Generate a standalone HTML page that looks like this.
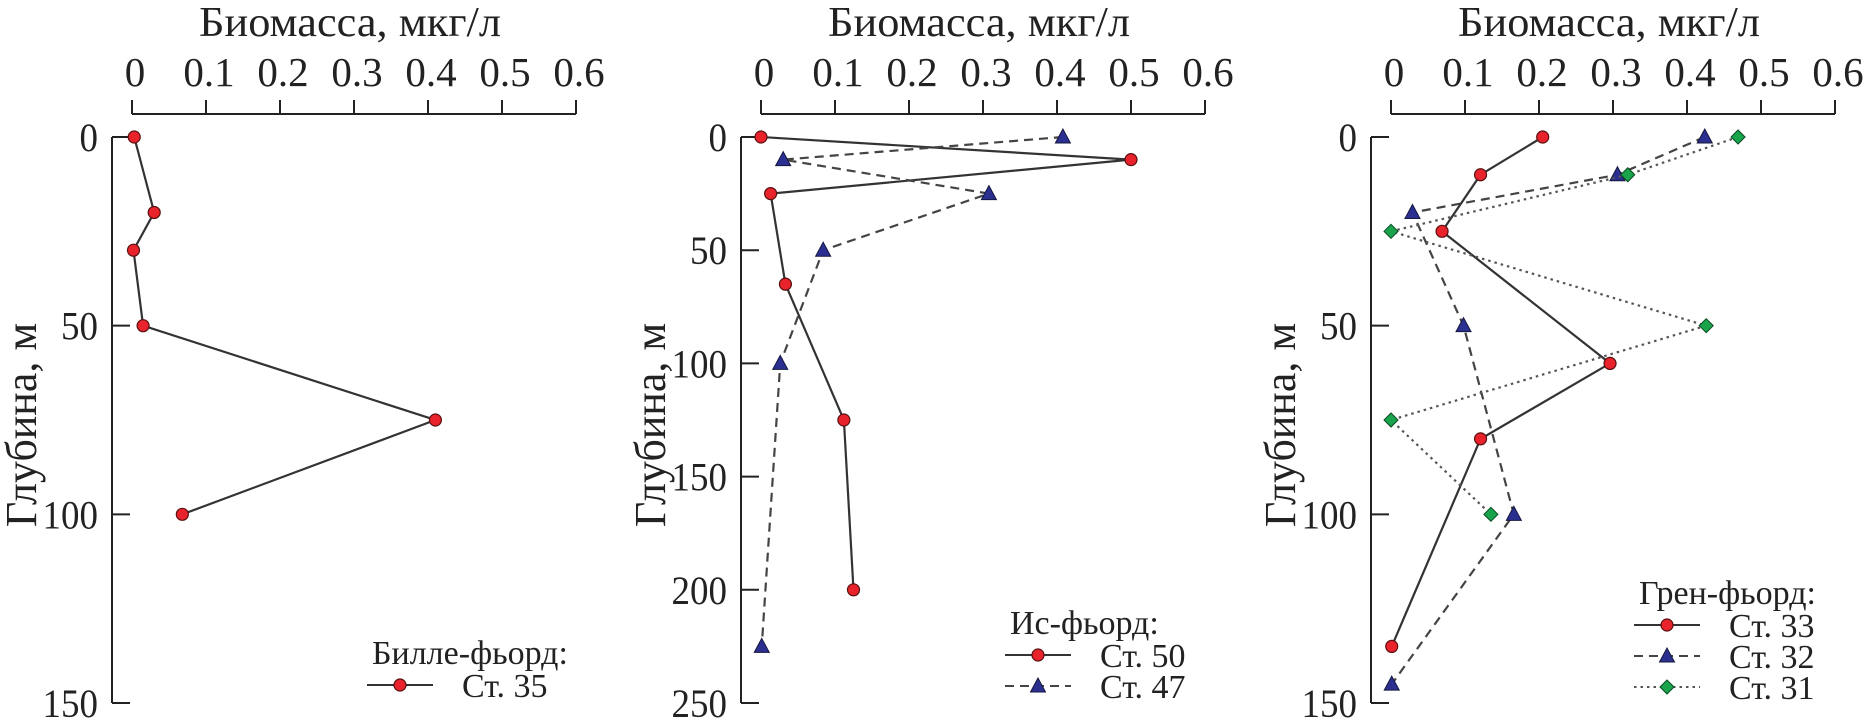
<!DOCTYPE html>
<html><head><meta charset="utf-8">
<style>
html,body{margin:0;padding:0;background:#fff;}
svg{display:block;font-family:"Liberation Serif","DejaVu Serif",serif;}
</style></head>
<body>
<svg id="chart" width="1863" height="728" viewBox="0 0 1863 728"></svg>
<script>
const xTicks = [0, 0.1, 0.2, 0.3, 0.4, 0.5, 0.6];
const xTickLabels = ["0", "0.1", "0.2", "0.3", "0.4", "0.5", "0.6"];
const yTicks1 = [0, 50, 100, 150];
const yTicks2 = [0, 50, 100, 150, 200, 250];
const yTicks3 = [0, 50, 100, 150];

const st35Depth = [0, 20, 30, 50, 75, 100];
const st35Biomass = [0.003, 0.03, 0.002, 0.015, 0.41, 0.068];

const st50Depth = [0, 10, 25, 65, 125, 200];
const st50Biomass = [0, 0.5, 0.013, 0.033, 0.112, 0.125];
const st47Depth = [0, 10, 25, 50, 100, 225];
const st47Biomass = [0.408, 0.03, 0.308, 0.084, 0.026, 0.001];

const st33Depth = [0, 10, 25, 60, 80, 135];
const st33Biomass = [0.205, 0.121, 0.069, 0.296, 0.121, 0.001];
const st32Depth = [0, 10, 20, 50, 100, 145];
const st32Biomass = [0.424, 0.306, 0.029, 0.098, 0.166, 0.001];
const st31Depth = [0, 10, 25, 50, 75, 100];
const st31Biomass = [0.469, 0.32, 0.0, 0.426, 0.0, 0.135];

const NS = "http://www.w3.org/2000/svg";
const svg = document.getElementById("chart");
function mk(tag, attrs, parent) {
  const e = document.createElementNS(NS, tag);
  for (const k in attrs) e.setAttribute(k, attrs[k]);
  (parent || svg).appendChild(e);
  return e;
}
const TOP = 137, BOTTOM = 703, XAXIS_Y = 114;

function panel(name, axisX, yMax, yTicks) {
  const g = mk("g", {});
  
  
  const x0 = axisX + 20, perUnit = 740;
  const xs = v => x0 + v * perUnit;
  const ys = d => TOP + d / yMax * (BOTTOM - TOP);
  const xa = mk("g", {}, g);
  
  
  mk("line", {x1: xs(0), x2: xs(0.6), y1: XAXIS_Y, y2: XAXIS_Y, stroke: "#222", "stroke-width": 2}, xa);
  xTicks.forEach((t, i) => {
    mk("line", {x1: xs(t), x2: xs(t), y1: XAXIS_Y, y2: XAXIS_Y - 14, stroke: "#222", "stroke-width": 2}, xa);
    const tx = mk("text", {x: xs(t) + 3, y: 86, "font-size": 41, "text-anchor": "middle", fill: "#222"}, xa);
    tx.textContent = xTickLabels[i];
    
    
  });
  const tt = mk("text", {x: xs(0.3) - 4, y: 36, "font-size": 42, "text-anchor": "middle", fill: "#222",
    textLength: 302, lengthAdjust: "spacingAndGlyphs"}, g);
  tt.textContent = "Биомасса, мкг/л";
  
  
  const ya = mk("g", {}, g);
  
  
  mk("line", {x1: axisX, x2: axisX, y1: TOP, y2: BOTTOM, stroke: "#222", "stroke-width": 2}, ya);
  yTicks.forEach(t => {
    mk("line", {x1: axisX, x2: axisX + 18, y1: ys(t), y2: ys(t), stroke: "#222", "stroke-width": 2}, ya);
    const tx = mk("text", {x: axisX - 14, y: ys(t) + 14, "font-size": 40, "text-anchor": "end", fill: "#222",
      textLength: String(t).length * 18.5, lengthAdjust: "spacingAndGlyphs"}, ya);
    tx.textContent = String(t);
    
    
  });
  const yl = mk("text", {x: 0, y: 0, "font-size": 44, "text-anchor": "middle", fill: "#222",
    transform: `translate(${axisX - 76},425) rotate(-90)`}, g);
  yl.textContent = "Глубина, м";
  
  
  return {g, xs, ys};
}

const STYLE = {
  solid: {dash: "none", color: "#333"},
  dashed: {dash: "9,6", color: "#444"},
  dotted: {dash: "2.5,4", color: "#555"}
};
function marker(parent, kind, x, y) {
  let m;
  if (kind === "circle") m = mk("circle", {cx: x, cy: y, r: 6, fill: "#e8232b", stroke: "#5a1010", "stroke-width": 1.2}, parent);
  else if (kind === "triangle") m = mk("polygon", {points: `${x},${y - 8} ${x - 7.5},${y + 6} ${x + 7.5},${y + 6}`, fill: "#2b2f8f", stroke: "#15173f", "stroke-width": 1}, parent);
  else m = mk("polygon", {points: `${x},${y - 7} ${x + 7},${y} ${x},${y + 7} ${x - 7},${y}`, fill: "#19a44c", stroke: "#0b4a22", "stroke-width": 1}, parent);
  
  
}
function series(p, name, depths, vals, style, kind) {
  const g = mk("g", {}, p.g);
  
  
  const pts = depths.map((d, i) => p.xs(vals[i]) + "," + p.ys(d)).join(" ");
  const s = STYLE[style];
  const pl = mk("polyline", {points: pts, fill: "none", stroke: s.color, "stroke-width": 2.2, "stroke-dasharray": s.dash}, g);
  
  
  depths.forEach((d, i) => marker(g, kind, p.xs(vals[i]), p.ys(d)));
}
function legend(p, name, x, headerY, title, rows) {
  const g = mk("g", {}, p.g);
  
  
  const h = mk("text", {x: x + 5, y: headerY + 12, "font-size": 34, fill: "#222"}, g);
  h.textContent = title;
  
  
  rows.forEach((r, i) => {
    const cy = headerY + 33 + i * 31;
    const e = mk("g", {}, g);
    
    
    const s = STYLE[r.style];
    mk("line", {x1: x, x2: x + 66, y1: cy, y2: cy, stroke: s.color, "stroke-width": 2, "stroke-dasharray": s.dash}, e);
    marker(e, r.kind, x + 33, cy);
    const t = mk("text", {x: x + 95, y: cy + 12, "font-size": 34, fill: "#222"}, e);
    t.textContent = r.label;
  });
}

const p1 = panel("panel-bille-fjord", 112, 150, yTicks1);
series(p1, "series-st35", st35Depth, st35Biomass, "solid", "circle");
legend(p1, "legend-bille", 367, 652, "Билле-фьорд:", [{label: "Ст. 35", style: "solid", kind: "circle"}]);

const p2 = panel("panel-is-fjord", 741, 250, yTicks2);
series(p2, "series-st50", st50Depth, st50Biomass, "solid", "circle");
series(p2, "series-st47", st47Depth, st47Biomass, "dashed", "triangle");
legend(p2, "legend-is", 1005, 622, "Ис-фьорд:", [{label: "Ст. 50", style: "solid", kind: "circle"}, {label: "Ст. 47", style: "dashed", kind: "triangle"}]);

const p3 = panel("panel-gren-fjord", 1371, 150, yTicks3);
series(p3, "series-st33", st33Depth, st33Biomass, "solid", "circle");
series(p3, "series-st32", st32Depth, st32Biomass, "dashed", "triangle");
series(p3, "series-st31", st31Depth, st31Biomass, "dotted", "diamond");
legend(p3, "legend-gren", 1634, 592, "Грен-фьорд:", [{label: "Ст. 33", style: "solid", kind: "circle"}, {label: "Ст. 32", style: "dashed", kind: "triangle"}, {label: "Ст. 31", style: "dotted", kind: "diamond"}]);
</script>
</body></html>
